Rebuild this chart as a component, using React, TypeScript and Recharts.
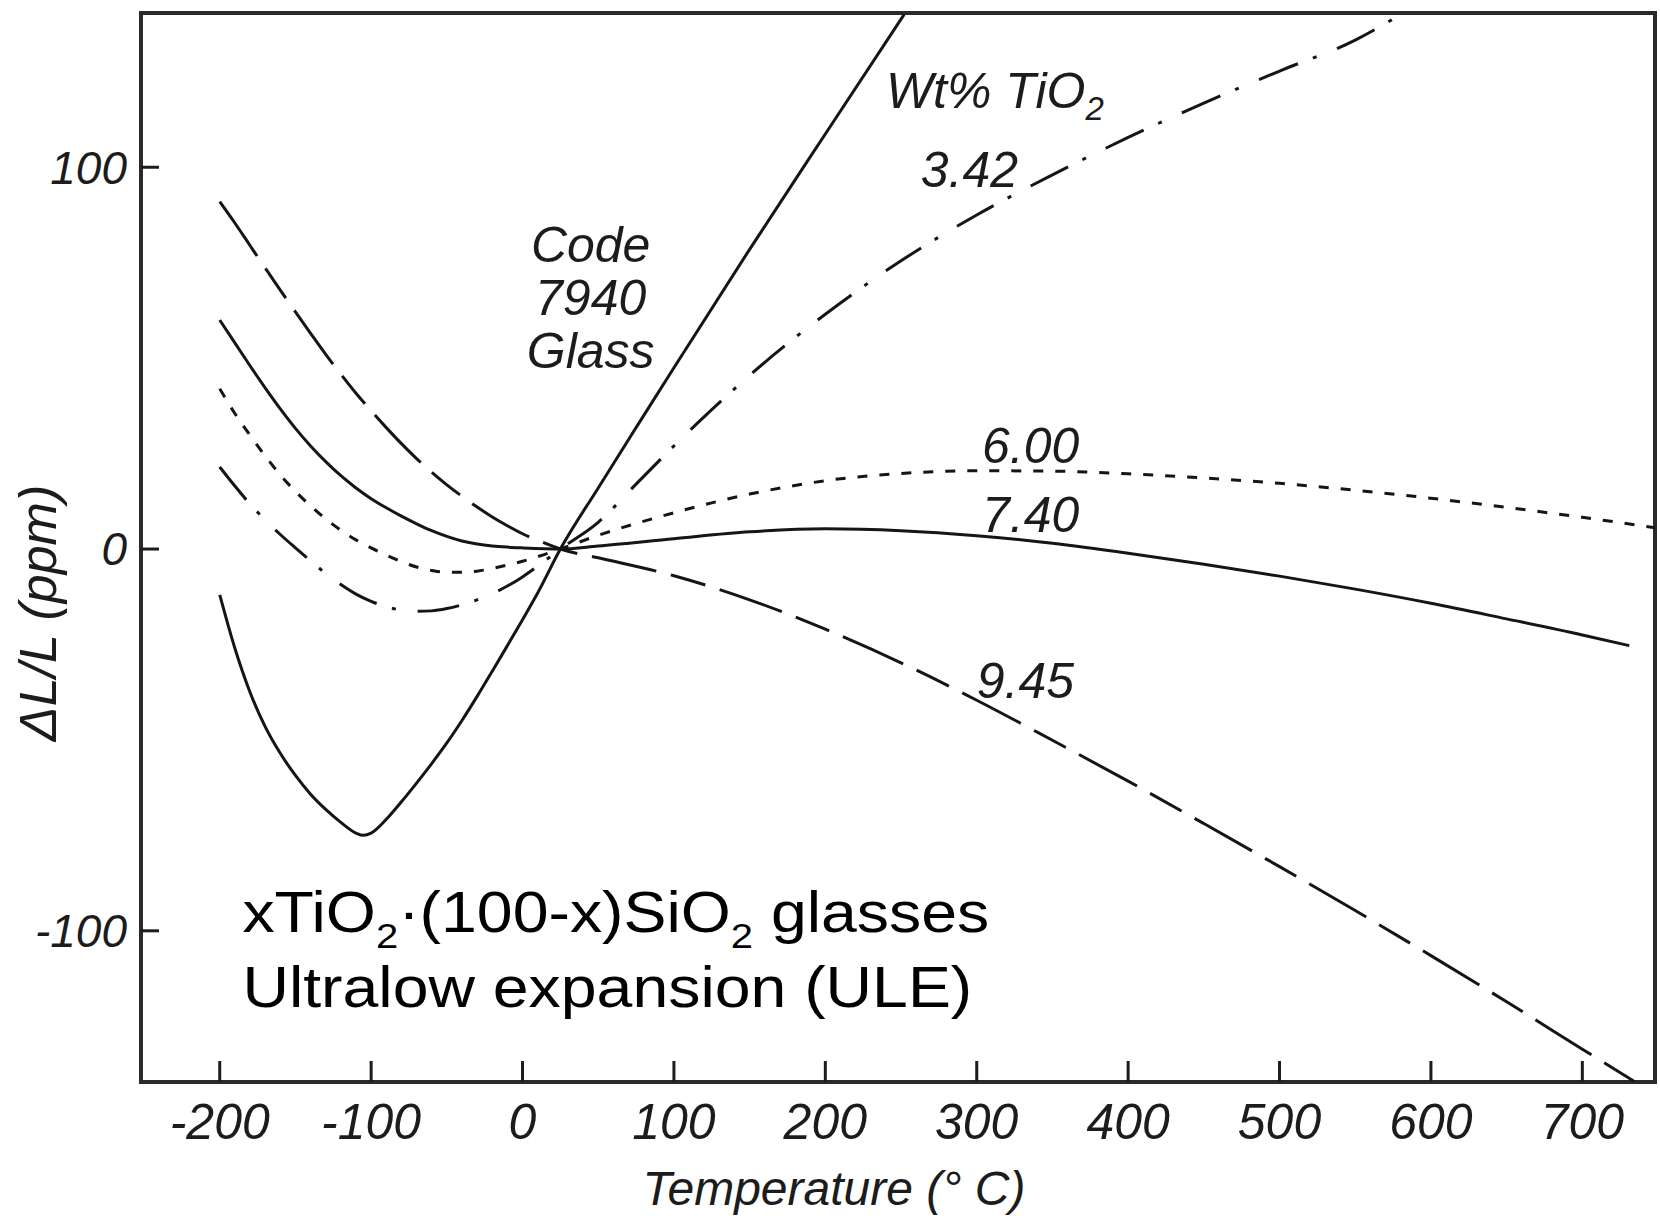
import React from "react";
import { LineChart, Line, XAxis, YAxis, ReferenceArea, ReferenceDot } from "recharts";

const FONT = '"Liberation Sans", Arial, Helvetica, sans-serif';
const INK = "#1c1c1c";

const X_DOMAIN: [number, number] = [-252, 748];
const Y_DOMAIN: [number, number] = [-139.6, 140.4];
const X_TICKS = [-200, -100, 0, 100, 200, 300, 400, 500, 600, 700];
const Y_TICKS = [-100, 0, 100];

// Code 7940 glass (no TiO2)
const T_7940 = [-200, -190, -180, -170, -160, -150, -140, -130, -120, -110, -105, -100, -90, -80, -70, -60, -50, -40, -30, -20, -10, 0, 10, 25, 50, 75, 100, 150, 200, 252];
const V_7940 = [-12, -26, -37.5, -46.5, -53.5, -59.3, -64.2, -68.2, -71.6, -74.4, -75, -74.4, -70.8, -66.2, -61.3, -56.2, -50.8, -44.9, -38.6, -32, -25.3, -18.5, -11.5, 0, 16, 31.8, 47.5, 78.5, 108.7, 140];

// 3.42 wt% TiO2
const T_342 = [-200, -190, -180, -170, -160, -150, -140, -130, -120, -110, -100, -90, -80, -70, -60, -50, -40, -30, -20, -10, 0, 10, 25, 50, 75, 100, 125, 150, 200, 250, 300, 350, 400, 450, 500, 550, 580];
const V_342 = [21.5, 16.5, 11.8, 7.6, 3.8, 0.3, -3.1, -6.4, -9.3, -11.8, -13.7, -15.1, -16, -16.3, -16.2, -15.6, -14.6, -13.3, -11.7, -9.7, -7.3, -4.5, 0, 7, 17, 27, 36.5, 45.5, 61.5, 75.5, 87.5, 98, 107.8, 116.8, 125.2, 133.3, 140];

// 6.00 wt% TiO2
const T_600 = [-200, -190, -180, -170, -160, -150, -140, -130, -120, -110, -100, -90, -80, -70, -60, -50, -40, -30, -20, -10, 0, 10, 25, 50, 75, 100, 125, 150, 175, 200, 250, 300, 350, 400, 450, 500, 550, 600, 650, 700, 748];
const V_600 = [42, 35.5, 29.8, 24.4, 19.4, 15.1, 11.3, 7.9, 4.9, 2.4, 0.3, -1.6, -3.3, -4.7, -5.6, -6.1, -6.1, -5.8, -5.1, -4.2, -3.2, -2, 0, 3.6, 6.7, 9.5, 12.1, 14.4, 16.3, 17.9, 19.8, 20.5, 20.4, 19.7, 18.6, 17.2, 15.4, 13.3, 10.9, 8.3, 5.6];

// 7.40 wt% TiO2
const T_740 = [-200, -190, -180, -170, -160, -150, -140, -130, -120, -110, -100, -90, -80, -70, -60, -50, -40, -30, -20, -10, 0, 25, 50, 100, 150, 200, 250, 300, 350, 400, 450, 500, 550, 600, 650, 700, 731];
const V_740 = [60, 54, 48, 42.2, 36.7, 31.6, 27, 22.9, 19.2, 16, 13.2, 10.8, 8.6, 6.6, 4.8, 3.3, 2.1, 1.3, 0.8, 0.5, 0.3, 0, 0.8, 2.7, 4.5, 5.3, 4.8, 3.5, 1.5, -1.1, -4, -7.1, -10.5, -14.2, -18.3, -22.5, -25.3];

// 9.45 wt% TiO2
const T_945 = [-200, -190, -180, -170, -160, -150, -140, -130, -120, -110, -100, -90, -80, -70, -60, -50, -40, -30, -20, -10, 0, 10, 25, 50, 100, 150, 200, 250, 300, 350, 400, 450, 500, 550, 600, 650, 700, 735];
const V_945 = [91, 85.4, 79.5, 73.6, 67.8, 62.1, 56.5, 51, 45.8, 40.8, 36.2, 31.8, 27.6, 23.7, 20.1, 16.8, 13.8, 11, 8.4, 6.1, 4, 2.3, 0, -2.3, -7, -13.3, -21, -29.8, -39.6, -50.1, -60.8, -71.9, -83.2, -94.7, -106.5, -118.6, -131, -139.6];

const pairs = (t: number[], v: number[]) => t.map((x, i) => ({ t: x, v: v[i] }));

const SERIES = [
  { id: "7940", data: pairs(T_7940, V_7940), dash: undefined as string | undefined },
  { id: "3.42", data: pairs(T_342, V_342), dash: "42 16 4 22" },
  { id: "6.00", data: pairs(T_600, V_600), dash: "10 12" },
  { id: "7.40", data: pairs(T_740, V_740), dash: undefined },
  { id: "9.45", data: pairs(T_945, V_945), dash: "66 15 36 15" },
];

// curve labels, placed in data units
const CURVE_LABELS = [
  { t: 263, v: 94.8, text: "3.42" },
  { t: 303.5, v: 22.5, text: "6.00" },
  { t: 303.5, v: 4.5, text: "7.40" },
  { t: 300, v: -39, text: "9.45" },
];
const GLASS_LINES = ["Code", "7940", "Glass"];
const GLASS_AT = { t: 45, v: 75.2 };
const WT_AT = { t: 240, v: 115.5 };
const NOTE_AT = { t: -185, v: -100.3 };

const italic = { fontFamily: FONT, fontStyle: "italic", fontSize: 50, fill: INK };

function xTitle(props: any) {
  const vb = props.viewBox;
  return (
    <text x={vb.x + 693} y={vb.y + 123} textAnchor="middle" {...italic} fontSize={48}>
      Temperature (° C)
    </text>
  );
}

function yTitle(props: any) {
  const vb = props.viewBox;
  const cx = vb.x + 38;
  const cy = vb.y + 600;
  return (
    <text transform={`translate(${cx},${cy}) rotate(-90)`} textAnchor="middle" dominantBaseline="central" {...italic} fontSize={52}>
      ΔL/L (ppm)
    </text>
  );
}

export default function App() {
  return (
    <div style={{ position: "absolute", left: 0, top: 0, width: 1660, height: 1219, background: "#fff" }}>
      <LineChart width={1660} height={1219} margin={{ top: 13, right: 5, bottom: 0, left: 0 }}>
        <XAxis
          type="number"
          dataKey="t"
          domain={X_DOMAIN}
          ticks={X_TICKS}
          allowDataOverflow
          height={137}
          axisLine={false}
          tickSize={-21}
          tickMargin={42}
          tickLine={{ stroke: INK, strokeWidth: 3 }}
          tick={{ fontFamily: FONT, fontStyle: "italic", fontSize: 50, fill: INK }}
          label={xTitle}
        />
        <YAxis
          type="number"
          domain={Y_DOMAIN}
          ticks={Y_TICKS}
          allowDataOverflow
          width={141}
          axisLine={false}
          tickSize={-18}
          tickMargin={32}
          tickLine={{ stroke: INK, strokeWidth: 3 }}
          tick={{ fontFamily: FONT, fontStyle: "italic", fontSize: 46, fill: INK }}
          label={yTitle}
        />
        <ReferenceArea
          x1={X_DOMAIN[0]}
          x2={X_DOMAIN[1]}
          y1={Y_DOMAIN[0]}
          y2={Y_DOMAIN[1]}
          fill="none"
          stroke="#2a2a2a"
          strokeWidth={4}
          ifOverflow="visible"
        />
        {SERIES.map((s) => (
          <Line
            key={s.id}
            data={s.data}
            dataKey="v"
            type="monotone"
            stroke="#151515"
            strokeWidth={3}
            strokeDasharray={s.dash}
            dot={false}
            activeDot={false}
            isAnimationActive={false}
          />
        ))}
        {CURVE_LABELS.map((l) => (
          <ReferenceDot
            key={l.text}
            x={l.t}
            y={l.v}
            r={0}
            shape={(p: any) => (
              <text x={p.cx} y={p.cy} {...italic}>
                {l.text}
              </text>
            )}
          />
        ))}
        <ReferenceDot
          x={GLASS_AT.t}
          y={GLASS_AT.v}
          r={0}
          shape={(p: any) => (
            <text x={p.cx} y={p.cy} textAnchor="middle" {...italic}>
              {GLASS_LINES.map((s, i) => (
                <tspan key={s} x={p.cx} dy={i === 0 ? 0 : 53}>
                  {s}
                </tspan>
              ))}
            </text>
          )}
        />
        <ReferenceDot
          x={WT_AT.t}
          y={WT_AT.v}
          r={0}
          shape={(p: any) => (
            <text x={p.cx} y={p.cy} {...italic}>
              Wt% TiO
              <tspan dy={12} fontSize={33}>2</tspan>
            </text>
          )}
        />
        <ReferenceDot
          x={NOTE_AT.t}
          y={NOTE_AT.v}
          r={0}
          shape={(p: any) => (
            <g transform={`translate(${p.cx},${p.cy}) scale(1.11,1)`} fontFamily={FONT} fontSize={58} fill="#000">
              <text x={0} y={0}>
                xTiO
                <tspan dy={16} fontSize={36}>2</tspan>
                <tspan dy={-16}>·(100-x)SiO</tspan>
                <tspan dy={16} fontSize={36}>2</tspan>
                <tspan dy={-16}>{" glasses"}</tspan>
              </text>
              <text x={0} y={75}>Ultralow expansion (ULE)</text>
            </g>
          )}
        />
      </LineChart>
    </div>
  );
}
